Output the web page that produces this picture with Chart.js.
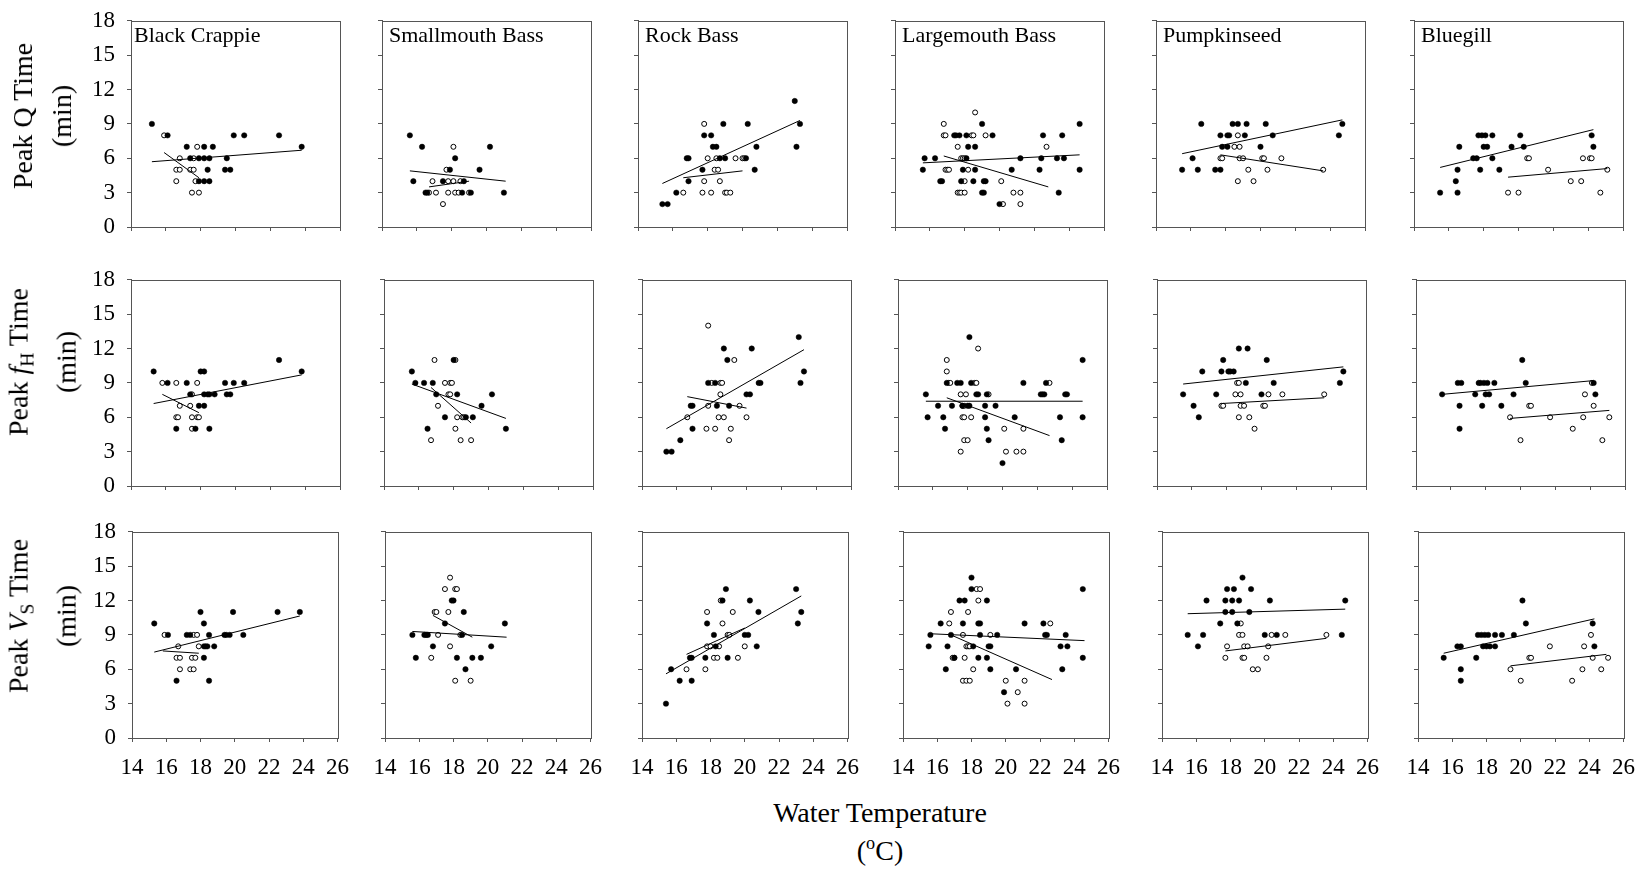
<!DOCTYPE html>
<html>
<head>
<meta charset="utf-8">
<script src="https://cdn.jsdelivr.net/npm/chart.js"></script>
<style>
  body { margin: 0; background: #fff; font-family: 'Liberation Serif', 'Times New Roman', serif; }
  #page { position: relative; width: 1651px; height: 872px; overflow: hidden; background: #fff; }
  .panel { position: absolute; }
  .species { position: absolute; font-size: 22px; line-height: 22px; white-space: nowrap; color: #000; }
  .ytitle { position: absolute; font-size: 28px; line-height: 39px; text-align: center; white-space: nowrap;
            transform: translate(-50%, -50%) rotate(-90deg); color: #000; }
  .xtitle { position: absolute; font-size: 28px; line-height: 31px; text-align: center; white-space: nowrap;
            transform: translateX(-50%); color: #000; }
  sub { font-size: 70%; vertical-align: -0.3em; }
  sup { font-size: 65%; vertical-align: 0.6em; }
</style>
</head>
<body>
<div id="page"></div>
<script>
// categories / ticks
const species = ['Black Crappie', 'Smallmouth Bass', 'Rock Bass', 'Largemouth Bass', 'Pumpkinseed', 'Bluegill'];
const xTicks = [14, 16, 18, 20, 22, 24, 26];
const yTicks = [0, 3, 6, 9, 12, 15, 18];

// Peak Q time: filled circles, open circles, fitted lines [x1, y1, x2, y2]
const qClosed = [
  [[15.2,9],[16.1,8],[17.2,7],[17.4,6],[17.9,6],[18.2,7],[18.2,6],[18.5,6],[18.7,7],[19.5,6],[19.4,5],[19.7,5],[19.9,8],[20.5,8],[22.5,8],[23.8,7],[18.4,5],[17.9,4],[18.2,4],[18.5,4]],
  [[15.6,8],[16.3,7],[15.8,4],[16.5,3],[16.6,3],[17.5,4],[17.9,5],[18.2,6],[18.6,3],[18.7,4],[19.1,3],[19.6,5],[20.2,7],[21.0,3]],
  [[15.4,2],[15.7,2],[16.2,3],[16.8,6],[16.9,6],[16.9,4],[17.7,5],[17.8,8],[18.2,8],[18.3,7],[18.5,7],[18.7,6],[18.9,9],[19.0,6],[20.2,6],[20.3,9],[20.7,5],[20.8,7],[23.0,11],[23.1,7],[23.3,9]],
  [[15.6,5],[15.7,6],[16.3,6],[16.6,4],[16.7,4],[17.4,8],[17.5,8],[17.7,8],[17.9,5],[17.8,4],[18.1,8],[18.1,6],[18.2,7],[18.5,4],[18.6,7],[18.6,5],[19.0,9],[19.0,3],[19.1,3],[19.1,4],[19.2,4],[19.6,8],[20.0,2],[20.7,5],[21.2,6],[22.3,5],[22.4,6],[22.5,8],[23.3,6],[23.4,3],[23.6,8],[23.7,6],[24.6,9],[24.6,5]],
  [[15.5,5],[16.1,6],[16.4,5],[16.6,9],[17.4,5],[17.7,8],[17.7,5],[17.8,7],[18.1,8],[18.2,8],[18.1,7],[18.4,9],[18.7,9],[19.1,8],[19.2,9],[20.0,7],[20.3,9],[20.7,8],[24.5,8],[24.7,9]],
  [[15.5,3],[16.4,4],[16.5,5],[16.5,3],[16.6,7],[17.4,6],[17.6,6],[17.7,8],[17.9,8],[18.1,8],[17.8,5],[18.0,7],[18.2,7],[18.5,8],[18.5,6],[18.9,5],[19.6,7],[20.1,8],[20.3,7],[24.2,8],[24.3,7]]
];
const qOpen = [
  [[15.9,8],[16.8,6],[16.6,5],[16.8,5],[16.6,4],[17.4,5],[17.6,5],[17.6,6],[17.8,7],[17.7,4],[17.5,3],[17.9,3]],
  [[16.9,4],[16.7,3],[17.1,3],[17.5,2],[17.7,5],[17.8,3],[17.8,4],[18.1,4],[18.1,7],[18.2,3],[18.4,3],[18.5,4],[19.0,3]],
  [[16.6,3],[17.7,3],[17.8,9],[17.8,4],[18.0,6],[18.2,3],[18.4,5],[18.6,5],[18.5,6],[18.7,4],[19.0,3],[19.1,3],[19.3,3],[19.6,6],[20.0,6],[20.1,6]],
  [[16.8,9],[16.8,8],[16.9,8],[16.9,5],[17.0,5],[17.1,5],[17.6,7],[17.6,3],[17.7,3],[17.8,3],[18.0,3],[17.8,6],[17.9,6],[18.0,6],[18.0,4],[18.2,5],[18.4,8],[18.5,8],[18.6,10],[19.2,8],[20.1,4],[20.2,2],[20.8,3],[21.2,3],[21.2,2],[22.7,7]],
  [[17.7,6],[17.8,6],[18.5,7],[18.8,7],[18.7,8],[18.8,6],[19.0,6],[18.7,4],[19.3,5],[19.6,4],[20.1,6],[20.2,6],[20.4,5],[21.2,6],[23.6,5]],
  [[19.4,3],[20.0,3],[20.5,6],[20.6,6],[21.7,5],[23.0,4],[23.6,4],[23.7,6],[24.1,6],[24.2,6],[24.7,3],[25.1,5]]
];
const qFitClosed = [[15.2,5.7,23.8,6.7],[15.6,4.9,21.1,4.0],[15.4,3.8,23.3,9.3],[15.6,5.6,24.6,6.3],[15.5,6.4,24.7,9.35],[15.5,5.2,24.3,8.5]];
const qFitOpen = [[15.9,6.5,17.9,4.3],[16.7,3.5,19.0,4.0],[16.6,4.3,20.0,4.9],[16.8,6.2,22.8,3.5],[17.7,6.3,23.6,4.9],[19.4,4.35,25.1,5.1]];

// Peak fH time
const fhClosed = [
  [[15.3,10],[16.1,9],[16.6,5],[17.2,9],[17.4,8],[17.7,5],[17.9,7],[18.0,10],[18.2,10],[18.2,8],[18.2,7],[18.4,8],[18.5,8],[18.5,5],[18.8,8],[19.4,9],[19.5,8],[19.7,8],[19.9,9],[20.5,9],[22.5,11],[23.8,10]],
  [[15.6,10],[15.8,9],[16.3,9],[16.5,5],[16.8,9],[17.0,8],[17.5,6],[18.0,11],[18.2,8],[18.7,6],[19.1,6],[19.6,7],[20.2,8],[21.0,5]],
  [[15.4,3],[15.7,3],[16.2,4],[16.8,7],[16.9,7],[16.9,5],[17.8,9],[18.2,9],[18.3,7],[18.7,12],[18.9,11],[19.0,7],[20.0,8],[20.2,8],[20.3,12],[20.7,9],[20.8,9],[23.0,13],[23.1,9],[23.3,10]],
  [[15.6,8],[15.7,6],[16.3,7],[16.6,6],[16.7,5],[16.8,9],[17.1,7],[17.4,9],[17.6,9],[17.7,7],[18.0,7],[18.1,7],[18.1,13],[18.2,9],[18.5,8],[18.6,8],[19.0,7],[19.0,6],[19.1,5],[19.2,4],[19.1,8],[19.6,7],[20.0,2],[20.7,6],[21.2,9],[22.2,8],[22.3,8],[22.4,8],[22.5,9],[23.3,6],[23.4,4],[23.6,8],[23.7,8],[24.6,11],[24.6,6]],
  [[15.5,8],[16.1,7],[16.4,6],[16.6,10],[17.4,8],[17.7,10],[17.8,11],[18.1,10],[18.2,10],[18.4,10],[18.7,12],[19.1,9],[19.2,12],[20.0,8],[20.3,11],[20.7,9],[24.5,9],[24.7,10]],
  [[15.5,8],[16.4,9],[16.6,9],[16.5,7],[16.5,5],[17.4,8],[17.6,9],[17.7,9],[17.9,9],[18.1,9],[17.8,7],[18.0,8],[18.2,8],[18.5,9],[18.9,7],[19.6,8],[20.1,11],[20.3,9],[24.2,9],[24.3,8]]
];
const fhOpen = [
  [[15.8,9],[16.6,9],[16.8,7],[16.6,6],[16.7,6],[17.4,7],[17.5,5],[17.5,8],[17.8,9],[17.5,6],[17.8,6],[17.9,6]],
  [[16.7,4],[16.9,11],[17.1,7],[17.5,9],[17.8,9],[17.9,9],[17.7,8],[17.8,8],[18.1,11],[18.1,5],[18.2,6],[18.5,6],[18.6,6],[18.4,4],[19.0,4]],
  [[16.6,6],[17.7,5],[17.8,14],[17.8,7],[18.0,9],[18.2,5],[18.4,6],[18.7,6],[18.5,8],[18.5,9],[18.6,9],[19.0,4],[19.1,5],[19.3,11],[19.6,7],[20.0,6]],
  [[16.8,10],[16.8,11],[16.9,9],[17.0,9],[17.6,8],[17.9,8],[17.6,3],[17.7,7],[17.8,7],[17.7,6],[17.8,6],[17.8,4],[18.0,4],[18.2,6],[18.4,9],[18.5,9],[18.6,12],[19.2,8],[20.1,5],[20.2,3],[20.8,3],[21.2,3],[21.2,5],[22.7,9]],
  [[17.7,7],[17.8,7],[18.5,8],[18.8,8],[18.6,9],[18.7,9],[18.7,6],[18.8,7],[19.0,7],[19.3,6],[19.6,5],[20.1,7],[20.2,7],[20.4,8],[21.2,8],[23.6,8]],
  [[19.4,6],[20.0,4],[20.5,7],[20.6,7],[21.7,6],[23.0,5],[23.6,6],[23.7,8],[24.1,9],[24.2,7],[24.7,4],[25.1,6]]
];
const fhFitClosed = [[15.3,7.2,23.8,9.7],[15.6,8.9,21.0,5.9],[15.4,5.0,23.3,11.9],[15.6,7.4,24.6,7.4],[15.5,8.9,24.7,10.4],[15.5,8.0,24.2,9.2]];
const fhFitOpen = [[15.8,8.0,17.9,6.4],[16.7,8.6,19.0,5.5],[16.6,7.8,20.0,6.8],[16.8,7.7,22.7,4.4],[17.7,7.2,23.6,7.7],[19.4,5.9,25.1,6.6]];

// Peak Vs time
const vsClosed = [
  [[15.3,10],[16.1,9],[16.6,5],[17.2,9],[17.4,9],[18.0,11],[18.2,10],[18.2,8],[18.3,8],[18.4,8],[18.2,7],[18.5,9],[18.5,5],[18.8,8],[19.4,9],[19.5,9],[19.7,9],[19.9,11],[20.5,9],[22.5,11],[23.8,11]],
  [[15.6,9],[15.8,7],[16.3,9],[16.4,9],[16.5,9],[16.8,8],[17.5,10],[17.9,12],[18.0,12],[18.2,7],[18.5,9],[18.6,11],[18.7,6],[19.1,7],[19.6,7],[20.2,8],[21.0,10]],
  [[15.4,3],[15.7,6],[16.2,5],[16.8,7],[16.9,7],[16.9,5],[17.7,7],[17.8,10],[18.2,9],[18.3,8],[18.7,12],[18.9,13],[19.0,7],[20.0,9],[20.2,9],[20.3,12],[20.7,8],[20.8,11],[23.0,13],[23.1,10],[23.3,11]],
  [[15.5,8],[15.6,9],[16.2,10],[16.5,6],[16.6,8],[16.8,9],[17.0,7],[17.3,12],[17.5,10],[17.6,12],[18.0,14],[18.0,13],[18.1,8],[18.4,7],[18.4,10],[18.5,10],[18.5,9],[18.9,12],[18.9,7],[19.0,8],[19.1,8],[19.1,6],[19.5,9],[19.9,4],[20.6,6],[21.1,10],[22.2,10],[22.3,9],[22.4,9],[23.2,8],[23.3,6],[23.5,9],[23.6,8],[24.5,13],[24.5,7]],
  [[15.5,9],[16.1,8],[16.4,9],[16.6,12],[17.4,10],[17.7,12],[17.7,11],[17.8,13],[18.1,12],[18.1,11],[18.2,13],[18.4,10],[18.5,12],[18.7,14],[19.1,11],[19.2,13],[20.0,9],[20.3,12],[20.7,9],[24.5,9],[24.7,12]],
  [[15.5,7],[16.3,8],[16.5,8],[16.5,6],[16.5,5],[17.4,7],[17.5,9],[17.7,9],[17.9,9],[18.1,9],[17.8,8],[18.0,8],[18.2,8],[18.5,8],[18.5,9],[18.9,9],[19.6,9],[20.1,12],[20.3,10],[24.2,10],[24.3,8]]
];
const vsOpen = [
  [[15.9,9],[16.7,8],[16.6,7],[16.8,7],[16.8,6],[17.4,6],[17.6,6],[17.5,7],[17.7,7],[17.6,9],[17.8,9],[17.9,8]],
  [[16.7,7],[16.9,11],[17.0,11],[17.1,9],[17.5,13],[17.7,11],[17.8,14],[17.8,8],[18.1,13],[18.2,13],[18.1,5],[18.4,9],[19.0,5]],
  [[16.6,6],[17.7,6],[17.8,11],[17.8,8],[18.0,8],[18.2,7],[18.4,7],[18.5,8],[18.6,12],[18.7,10],[19.0,9],[19.1,9],[19.3,11],[19.6,7],[20.0,8]],
  [[16.7,10],[16.8,11],[16.9,7],[17.0,7],[17.5,9],[17.5,5],[17.7,5],[17.9,5],[17.6,7],[17.7,8],[17.8,8],[17.9,8],[17.8,11],[18.1,6],[18.3,13],[18.5,13],[18.4,12],[19.1,9],[20.0,5],[20.1,3],[20.7,4],[21.1,5],[21.1,3],[22.6,10]],
  [[17.8,8],[17.7,7],[18.5,9],[18.7,9],[18.6,10],[18.7,7],[18.8,7],[18.8,8],[19.0,8],[19.3,6],[19.6,6],[20.1,7],[20.2,8],[20.4,9],[21.2,9],[23.6,9]],
  [[19.4,6],[20.0,5],[20.5,7],[20.6,7],[21.7,8],[23.0,5],[23.6,6],[23.7,8],[24.1,9],[24.2,7],[24.7,6],[25.1,7]]
];
const vsFitClosed = [[15.3,7.5,23.8,10.65],[15.6,9.3,21.1,8.8],[15.4,5.6,23.3,12.4],[15.6,9.1,24.6,8.5],[15.5,10.85,24.7,11.25],[15.5,7.4,24.3,10.4]];
const vsFitOpen = [[15.8,7.6,17.9,7.4],[16.8,10.7,19.1,8.8],[16.6,7.3,20.0,9.6],[16.8,9.0,22.7,5.1],[17.7,7.6,23.6,8.7],[19.4,6.3,25.0,7.3]];

// layout of the plot boxes (page pixels)
const rowTops = [15, 274, 526];
const rowLefts = [
  [131, 382, 638, 895, 1156, 1414],
  [131, 384, 642, 898, 1157, 1416],
  [132, 385, 642, 903, 1162, 1418]
];
const labelInset = [3, 7, 7, 7, 7, 7];
const titleCenters = [116, 362, 616];
const boxW = 209, boxH = 212;
const padL = 60, padT = 20, padR = 20, padB = 45;

const rows = [
  { closed: qClosed, open: qOpen, fitC: qFitClosed, fitO: qFitOpen, title: 'Peak Q Time' },
  { closed: fhClosed, open: fhOpen, fitC: fhFitClosed, fitO: fhFitOpen, title: 'Peak <i>f</i><sub>H</sub> Time' },
  { closed: vsClosed, open: vsOpen, fitC: vsFitClosed, fitO: vsFitOpen, title: 'Peak <i>V</i><sub>S</sub> Time' }
];

const page = document.getElementById('page');
const axisColor = '#555';
const tickFont = { family: 'Liberation Serif', size: 23 };

const frame = {
  id: 'frame',
  afterDatasetsDraw(chart) {
    const a = chart.chartArea, ctx = chart.ctx;
    ctx.save();
    ctx.strokeStyle = axisColor;
    ctx.lineWidth = 1;
    ctx.strokeRect(Math.round(a.left) + 0.5, Math.round(a.top) + 0.5, Math.round(a.width), Math.round(a.height));
    ctx.restore();
  }
};

const pts = list => list.map(p => ({ x: p[0], y: p[1] }));
const seg = f => [{ x: f[0], y: f[1] }, { x: f[2], y: f[3] }];

function makePanel(r, c) {
  const R = rows[r];
  const left = rowLefts[r][c], top = rowTops[r];
  const w = boxW + padL + padR, h = boxH + padT + padB;
  const box = document.createElement('div');
  box.className = 'panel';
  box.style.left = (left - padL) + 'px';
  box.style.top = (top - padT) + 'px';
  const canvas = document.createElement('canvas');
  canvas.width = w; canvas.height = h;
  canvas.style.width = w + 'px'; canvas.style.height = h + 'px';
  box.appendChild(canvas);
  page.appendChild(box);

  const showX = r === 2, showY = c === 0;
  new Chart(canvas, {
    type: 'scatter',
    data: {
      datasets: [
        { data: seg(R.fitC[c]), showLine: true, pointRadius: 0, borderColor: '#000', borderWidth: 1 },
        { data: seg(R.fitO[c]), showLine: true, pointRadius: 0, borderColor: '#000', borderWidth: 1 },
        { data: pts(R.closed[c]), pointRadius: 2.7, backgroundColor: '#000', borderColor: '#000', borderWidth: 0.5 },
        { data: pts(R.open[c]), pointRadius: 2.5, backgroundColor: '#fff', borderColor: '#000', borderWidth: 1 }
      ]
    },
    options: {
      responsive: false,
      animation: false,
      devicePixelRatio: 1,
      layout: { padding: { left: 0, top: padT, right: padR, bottom: 0 } },
      plugins: { legend: { display: false }, tooltip: { enabled: false } },
      scales: {
        x: {
          type: 'linear', min: xTicks[0], max: xTicks[xTicks.length - 1],
          afterBuildTicks: s => { s.ticks = xTicks.map(v => ({ value: v })); },
          afterFit: s => { s.height = padB; },
          grid: { drawOnChartArea: false, drawTicks: true, tickLength: 4, color: axisColor },
          border: { display: true, color: axisColor, width: 1 },
          ticks: { padding: 12, color: '#000', font: tickFont, maxRotation: 0, autoSkip: false,
                   callback: v => showX ? String(v) : '' }
        },
        y: {
          type: 'linear', min: yTicks[0], max: yTicks[yTicks.length - 1],
          afterBuildTicks: s => { s.ticks = yTicks.map(v => ({ value: v })); },
          afterFit: s => { s.width = padL; },
          grid: { drawOnChartArea: false, drawTicks: true, tickLength: 4, color: axisColor },
          border: { display: true, color: axisColor, width: 1 },
          ticks: { padding: 12, color: '#000', font: tickFont, autoSkip: false,
                   callback: v => showY ? String(v) : '' }
        }
      }
    },
    plugins: [frame]
  });

  if (r === 0) {
    const lab = document.createElement('div');
    lab.className = 'species';
    lab.textContent = species[c];
    lab.style.left = (left + labelInset[c]) + 'px';
    lab.style.top = (top + 9) + 'px';
    page.appendChild(lab);
  }
}

for (let r = 0; r < 3; r++) {
  for (let c = 0; c < 6; c++) makePanel(r, c);
  const t = document.createElement('div');
  t.className = 'ytitle';
  t.innerHTML = rows[r].title + '<br>(min)';
  t.style.left = '42px';
  t.style.top = titleCenters[r] + 'px';
  page.appendChild(t);
}

const xt = document.createElement('div');
xt.className = 'xtitle';
xt.innerHTML = 'Water Temperature<br>(<sup>o</sup>C)';
xt.style.left = '880px';
xt.style.top = '797px';
page.appendChild(xt);
</script>
</body>
</html>
